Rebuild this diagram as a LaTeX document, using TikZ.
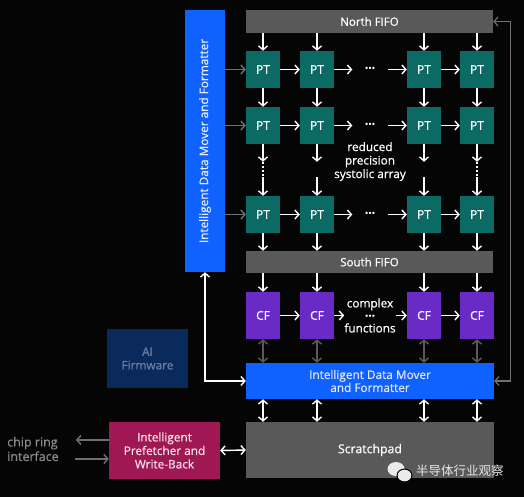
\documentclass[tikz,border=0pt]{standalone}
\usepackage{fontspec}
\setmainfont{Open Sans}[FakeBold=0.6]
\newfontfamily\cjk{Noto Sans CJK SC}
\usetikzlibrary{arrows.meta}
\definecolor{bg}{HTML}{050505}
\definecolor{ibmblue}{HTML}{0F62FE}
\definecolor{ptteal}{HTML}{0B6A64}
\definecolor{cfpurple}{HTML}{6A2AC6}
\definecolor{fifogray}{HTML}{595959}
\definecolor{navy}{HTML}{0A2A5C}
\definecolor{navytext}{HTML}{6F7FA3}
\definecolor{magent}{HTML}{9F1853}
\definecolor{garrow}{HTML}{707070}
\definecolor{darrow}{HTML}{5A5A5A}
\definecolor{chiptext}{HTML}{8A8A8A}
\tikzset{
  blk/.style={inner sep=0pt, text=white, align=center},
  ptbox/.style={blk, fill=ptteal, minimum width=34pt, minimum height=37pt, font=\fontsize{12}{13}\selectfont},
  cfbox/.style={blk, fill=cfpurple, minimum width=34pt, minimum height=47pt, font=\fontsize{12}{13}\selectfont},
  fifo/.style={blk, fill=fifogray, minimum width=247pt, font=\fontsize{11.5}{13}\selectfont},
  dotsnode/.style={blk, minimum width=35pt, minimum height=10pt, font=\fontsize{12}{13}\selectfont\bfseries},
  gapnode/.style={inner sep=0pt, minimum width=4pt, minimum height=15pt},
  tip/.tip={Straight Barb[length=4pt,width=9pt]},
  arr/.style={draw=white, line width=1.4pt, -tip},
  garr/.style={draw=garrow, line width=1.4pt, -tip},
  darr/.style={draw=white, line width=1.4pt, tip-tip},
  gdarr/.style={draw=darrow, line width=1.4pt, tip-tip},
  rline/.style={draw=garrow, line width=1.2pt, tip-tip},
  vdot/.style={draw=white, line width=1.8pt, dash pattern=on 1.8pt off 2.2pt},
}
\begin{document}
\begin{tikzpicture}[x=1pt,y=-1pt]
\fill[bg] (0,0) rectangle (524,497);
\useasboundingbox (0,0) rectangle (524,497);

% left vertical data mover
\node[blk, fill=ibmblue, minimum width=40pt, minimum height=262pt, text=white!92!blue] (dm) at (205,141)
  {\rotatebox{90}{\fontsize{11.8}{13}\selectfont Intelligent Data Mover and Formatter}};

% FIFOs
\node[fifo, minimum height=23pt] (nf) at (369.5,21.5) {North FIFO};
\node[fifo, minimum height=22pt] (sf) at (369.5,262) {South FIFO};

% PT grid
\foreach \r/\y in {1/69.5,2/125.5,3/214.5}{
  \foreach \c/\x in {1/263,2/317,3/424,4/477}{
    \node[ptbox] (p\r\c) at (\x,\y) {PT};
  }
  \node[dotsnode] (d\r) at (370,\y) {···};
}
% CF row
\foreach \c/\x in {1/263,2/317,3/424,4/477}{
  \node[cfbox] (f\c) at (\x,315.5) {CF};
}
\node[blk, minimum width=35pt, font=\fontsize{11.8}{13.5}\selectfont] (fd) at (370,315.5) {complex\\[-1pt]\textbf{···}\\[-1pt]functions};

% vertical dots / gaps between row 2 and 3
\node[gapnode] (v1) at (263,169.5) {};
\node[gapnode] (v2) at (317,169.5) {};
\node[gapnode] (v3) at (424,169.5) {};
\node[gapnode] (v4) at (477,169.5) {};
\draw[vdot] (v1.north) -- (v1.south);
\draw[vdot] (v4.north) -- (v4.south);

\node[blk, align=center, font=\fontsize{11.8}{13.5}\selectfont] (sa) at (370,161.5) {reduced\\precision\\systolic array};

% bottom blue data mover
\node[blk, fill=ibmblue, minimum width=248pt, minimum height=36pt, text=white!90!blue, font=\fontsize{11.8}{13}\selectfont] (bdm) at (370,381) {Intelligent Data Mover\\and Formatter};

% scratchpad
\node[blk, fill=fifogray, minimum width=248pt, minimum height=56pt, font=\fontsize{12.3}{14}\selectfont] (sp) at (370,450) {Scratchpad};

% AI firmware
\node[blk, fill=navy, minimum width=81pt, minimum height=59pt, text=navytext, font=\fontsize{11.8}{13.5}\selectfont] (fw) at (147.5,358.5) {AI\\Firmware};

% prefetcher
\node[blk, fill=magent, minimum width=111pt, minimum height=57pt, text=white!88!magent, font=\fontsize{11.8}{13.5}\selectfont] (pf) at (164.5,450.5) {Intelligent\\Prefetcher and\\Write-Back};

% chip ring interface
\node[blk, align=left, anchor=west, text=chiptext, font=\fontsize{12.5}{14.5}\selectfont] (cr) at (7,449) {chip ring\\interface};
\coordinate (c1) at (76,440);
\coordinate (c2) at (75,459);
\draw[garr] (pf.west |- c1) -- (c1);
\draw[garr] (c2) -- (c2 -| pf.west);

% vertical arrows
\foreach \c in {1,2,3,4}{
  \draw[arr] (nf.south -| p1\c) -- (p1\c.north);
  \draw[arr] (p1\c.south) -- (p2\c.north);
  \draw[arr] (p2\c.south) -- (v\c.north);
  \draw[arr] (v\c.south) -- (p3\c.north);
  \draw[arr] (p3\c.south) -- (sf.north -| p3\c);
  \draw[arr] (sf.south -| f\c) -- (f\c.north);
  \draw[gdarr] (f\c.south) -- (bdm.north -| f\c);
  \draw[darr] (bdm.south -| f\c) -- (sp.north -| f\c);
}
% horizontal arrows
\foreach \r in {1,2,3}{
  \draw[garr] (p\r1.west -| dm.east) -- (p\r1.west);
  \draw[arr] (p\r1.east) -- (p\r2.west);
  \draw[arr] (p\r2.east) -- (d\r.west);
  \draw[arr] (d\r.east) -- (p\r3.west);
  \draw[arr] (p\r3.east) -- (p\r4.west);
}
\draw[arr] (f1.east) -- (f2.west);
\draw[arr] (f2.east) -- (fd.west);
\draw[arr] (fd.east) -- (f3.west);
\draw[arr] (f3.east) -- (f4.west);

% data mover loops
\draw[darr] (dm.south) |- (bdm.west);
\draw[rline] (nf.east) -- ++(17,0) |- (bdm.east);
\draw[darr] (pf.east) -- (sp.west);

% watermark
\fill[white!92!black] (396,469) ellipse (8.5pt and 7pt);
\fill[bg] (404.5,475.5) ellipse (8pt and 7pt);
\fill[white!92!black] (404.5,475.5) ellipse (6.8pt and 5.8pt);
\node[blk, text=white!90!black, font=\cjk\fontsize{12.5}{14}\selectfont, anchor=west] (wm) at (416,471) {半导体行业观察};
\end{tikzpicture}
\end{document}
